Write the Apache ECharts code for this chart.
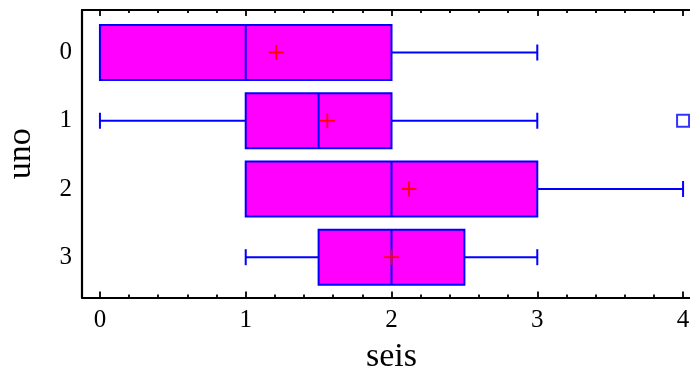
<!DOCTYPE html>
<html><head><meta charset="utf-8">
<script src="https://cdn.jsdelivr.net/npm/echarts@6/dist/echarts.min.js"></script>
<style>html,body{margin:0;padding:0;background:#fff}#c{width:690px;height:374px}</style>
</head><body><div id="c"></div>
<script>
// ---- data ----
const categories = ['0', '1', '2', '3'];
const minVals    = [0, 0, 1, 1];
const q1Vals     = [0, 1, 1, 1.5];
const medianVals = [1, 1.5, 2, 2];
const q3Vals     = [2, 2, 3, 2.5];
const maxVals    = [3, 3, 4, 3];
const meanVals   = [1.21, 1.56, 2.12, 2.0];
const outlierCats = [1];
const outlierVals = [4];
const xTickLabels = [0, 1, 2, 3, 4];
const xMinorTicks = [0.2,0.4,0.6,0.8,1.2,1.4,1.6,1.8,2.2,2.4,2.6,2.8,3.2,3.4,3.6,3.8];
const xMin = -0.123, xMax = 4.123;

// ---- styles ----
const FONT = '"Liberation Serif", "DejaVu Serif", serif';
const BLUE = '#0000ff', MAG = '#ff00ff', RED = '#ff0000';

const boxData = categories.map((c, i) => [i, minVals[i], q1Vals[i], medianVals[i], q3Vals[i], maxVals[i]]);
const meanData = categories.map((c, i) => [meanVals[i], i]);
const outlierData = outlierCats.map((c, i) => [outlierVals[i], c]);

function frameX(position, showLabels, ticks, len, name) {
  return {
    type: 'value', gridIndex: 0, position: position, min: xMin, max: xMax,
    axisLine: { show: ticks === xTickLabels, onZero: false, lineStyle: { color: '#000', width: 2.2 } },
    axisTick: { show: true, inside: true, length: len, customValues: ticks, lineStyle: { color: '#000', width: 1.8 } },
    axisLabel: { show: showLabels, customValues: xTickLabels, margin: 10, color: '#000', fontFamily: FONT, fontSize: 25 },
    splitLine: { show: false },
    name: name || '', nameLocation: 'middle', nameGap: 43,
    nameTextStyle: { color: '#000', fontFamily: FONT, fontSize: 34 }
  };
}

const option = {
  animation: false,
  backgroundColor: '#fff',
  grid: [
    { left: 82, right: -11, top: 10, bottom: 76.5, outerBoundsMode: 'none', containLabel: false },
    { left: 82, right: -11, top: 18.4, bottom: 82.7, outerBoundsMode: 'none', containLabel: false }
  ],
  xAxis: [
    frameX('bottom', true, xTickLabels, 6, 'seis'),
    frameX('top', false, xTickLabels, 6),
    frameX('bottom', false, xMinorTicks, 3),
    frameX('top', false, xMinorTicks, 3),
    { type: 'value', gridIndex: 1, min: xMin, max: xMax, show: false }
  ],
  yAxis: [
    {
      type: 'value', gridIndex: 0, min: 0, max: 1,
      axisLine: { show: true, onZero: false, lineStyle: { color: '#000', width: 2.2 } },
      axisTick: { show: false }, axisLabel: { show: false }, splitLine: { show: false },
      name: 'uno', nameLocation: 'middle', nameGap: 44,
      nameTextStyle: { color: '#000', fontFamily: FONT, fontSize: 34 }
    },
    {
      type: 'category', gridIndex: 1, data: categories, inverse: true,
      axisLine: { show: false }, axisTick: { show: false },
      axisLabel: { margin: 10, color: '#000', fontFamily: FONT, fontSize: 25 },
      splitLine: { show: false }
    }
  ],
  series: [
    {
      type: 'custom', xAxisIndex: 4, yAxisIndex: 1,
      encode: { y: 0, x: [1, 2, 3, 4, 5] },
      data: boxData,
      renderItem: function (params, api) {
        const cat = api.value(0);
        const yc = api.coord([0, cat])[1];
        const half = api.size([0, 1])[1] * 0.403;
        const cap = 8;
        const px = k => api.coord([api.value(k), cat])[0];
        const xmn = px(1), xq1 = px(2), xmd = px(3), xq3 = px(4), xmx = px(5);
        const ls = { stroke: BLUE, lineWidth: 2 };
        const ch = [];
        if (api.value(1) < api.value(2)) {
          ch.push({ type: 'line', shape: { x1: xmn, y1: yc, x2: xq1, y2: yc }, style: ls });
          ch.push({ type: 'line', shape: { x1: xmn, y1: yc - cap, x2: xmn, y2: yc + cap }, style: ls });
        }
        if (api.value(5) > api.value(4)) {
          ch.push({ type: 'line', shape: { x1: xq3, y1: yc, x2: xmx, y2: yc }, style: ls });
          ch.push({ type: 'line', shape: { x1: xmx, y1: yc - cap, x2: xmx, y2: yc + cap }, style: ls });
        }
        ch.push({ type: 'rect', shape: { x: xq1, y: yc - half, width: xq3 - xq1, height: 2 * half },
                  style: { fill: MAG, stroke: BLUE, lineWidth: 2 } });
        ch.push({ type: 'line', shape: { x1: xmd, y1: yc - half, x2: xmd, y2: yc + half }, style: ls });
        return { type: 'group', children: ch };
      }
    },
    {
      type: 'custom', xAxisIndex: 4, yAxisIndex: 1, z: 5,
      encode: { x: 0, y: 1 },
      data: meanData,
      renderItem: function (params, api) {
        const p = api.coord([api.value(0), api.value(1)]);
        const s = 7.5;
        const st = { stroke: RED, lineWidth: 1.8 };
        return { type: 'group', children: [
          { type: 'line', shape: { x1: p[0] - s, y1: p[1], x2: p[0] + s, y2: p[1] }, style: st },
          { type: 'line', shape: { x1: p[0], y1: p[1] - s, x2: p[0], y2: p[1] + s }, style: st }
        ] };
      }
    },
    {
      type: 'scatter', xAxisIndex: 4, yAxisIndex: 1,
      symbol: 'rect', symbolSize: 12,
      itemStyle: { color: '#fff', borderColor: BLUE, borderWidth: 2 },
      data: outlierData
    }
  ]
};

const chart = echarts.init(document.getElementById('c'), null, { renderer: 'canvas' });
chart.setOption(option);
</script>
</body></html>
